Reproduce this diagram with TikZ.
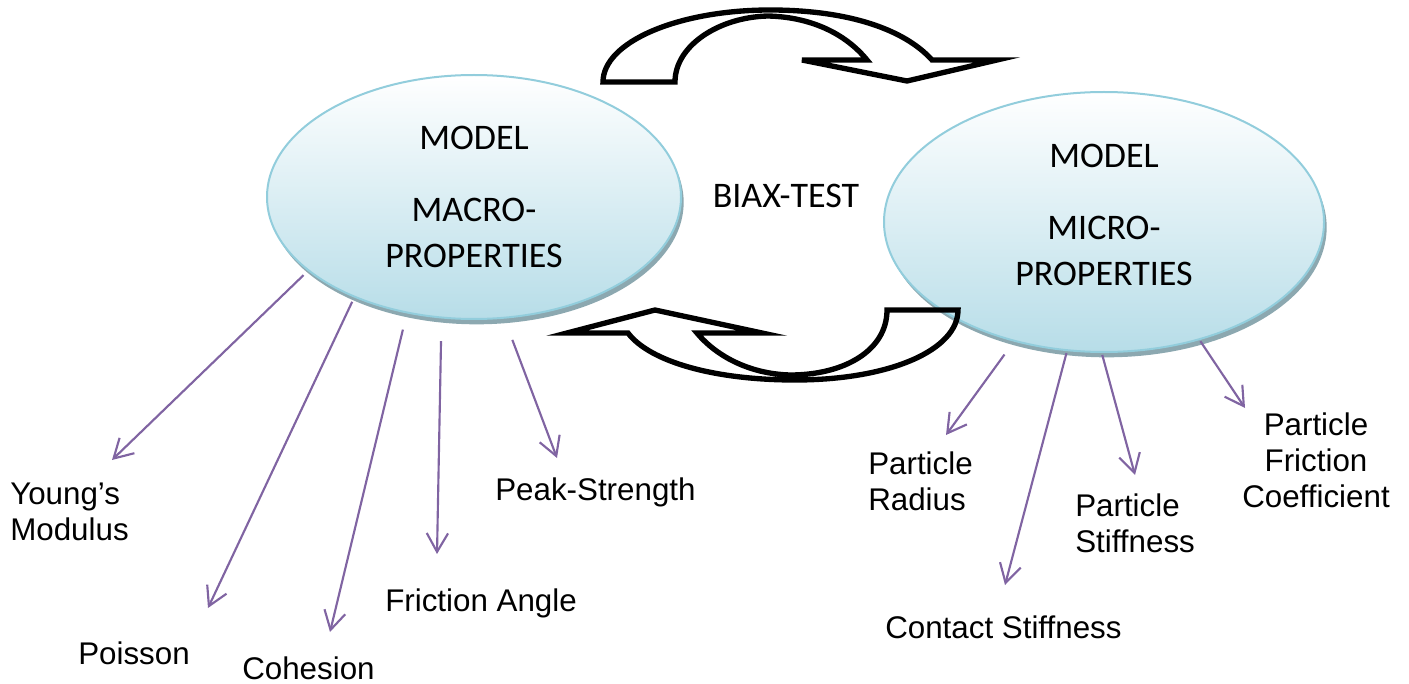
\documentclass[tikz,border=0pt]{standalone}
\usepackage{fontspec}
\setmainfont{Liberation Sans}
\newfontfamily\calibri{Carlito}
\usetikzlibrary{shapes.geometric,shadows,arrows.meta}
\definecolor{ellfill}{RGB}{183,221,232}
\definecolor{ellline}{RGB}{146,205,220}
\definecolor{ellshade}{RGB}{140,168,176}
\definecolor{arrpurple}{RGB}{128,100,162}
\tikzset{model/.style={ellipse, draw=ellline, line width=1.5pt, top color=white, bottom color=ellfill, inner sep=0pt, align=center, font=\calibri\fontsize{27}{34.5}\selectfont, general shadow={fill=ellshade, shadow xshift=2pt, shadow yshift=-4pt}}}
\tikzset{prop/.style={draw=arrpurple, line width=1.6pt, -{Straight Barb[length=14pt,width=16pt]}}, turn/.style={draw=black, line width=4pt, line join=miter}, lbl/.style={inner sep=0pt, font=\fontsize{23.5}{27}\selectfont}}

\begin{document}
\begin{tikzpicture}[x=0.75pt,y=-0.75pt]
  \useasboundingbox (0,0) rectangle (1409,684);

  \node[model, minimum width=310.5pt, minimum height=183pt] (ma) at (474,197) {MODEL\\[19.5pt]MACRO-\\PROPERTIES};
  \node[model, minimum width=330pt, minimum height=195pt, text depth=10.5pt] (mi) at (1104,222) {MODEL\\[19.5pt]MICRO-\\PROPERTIES};
  \node[inner sep=0pt, anchor=base, font=\calibri\fontsize{27}{34.5}\selectfont] (bt) at (786,208) {BIAX-TEST};

  % the two turning block arrows
  \draw[turn]
   (603,82) .. controls (603,42) and (678,10) ..
   (770,10) .. controls (850,10) and (905,30) ..
   (932,60) -- (997,60) -- (907,81) -- (802,60) -- (867,60) .. controls (845,33) and (810,17) ..
   (768,16) .. controls (720,17) and (675,45) ..
   (675,82) -- cycle;
  \draw[turn]
   (887,310) -- (958,310) .. controls (958,350) and (890,380) ..
   (795,380) .. controls (715,380) and (650,362) ..
   (628,333) -- (567,333) -- (655,310) -- (762,333) -- (697,333) .. controls (718,358) and (752,374) ..
   (790,375) .. controls (845,375) and (887,350) ..
   (887,310) -- cycle;

  % labels, placed by the baseline of their last line
  \node[lbl, anchor=base west, align=left] (ym) at (10,540) {Young's\\Modulus};
  \node[lbl, anchor=base west] (ps) at (78,664) {Poisson};
  \node[lbl, anchor=base west] (ch) at (242,679) {Cohesion};
  \node[lbl, anchor=base west] (fa) at (385,611) {Friction Angle};
  \node[lbl, anchor=base west] (pk) at (495,500) {Peak-Strength};
  \node[lbl, anchor=base west, align=left] (pr) at (868,510) {Particle\\Radius};
  \node[lbl, anchor=base west] (cs) at (885,638) {Contact Stiffness};
  \node[lbl, anchor=base west, align=left] (pt) at (1075,552) {Particle\\Stiffness};
  \node[lbl, anchor=base, align=center] (pf) at (1316,507) {Particle\\Friction\\Coefficient};

  \coordinate (ymt) at (112,460);
  \coordinate (pst) at (208,608);
  \coordinate (cht) at (330,632);
  \coordinate (fat) at (437,554);
  \coordinate (pkt) at (557,458);
  \coordinate (prt) at (946,435);
  \coordinate (cst) at (1005,585);
  \coordinate (ptt) at (1135,475);
  \coordinate (pft) at (1245,408);

  \draw[prop, shorten <=4.5pt] (ma.204) -- (ymt);
  \draw[prop, shorten <=3.5pt] (ma.220) -- (pst);
  \draw[prop, shorten <=12.5pt] (ma.240) -- (cht);
  \draw[prop, shorten <=17pt] (ma.255) -- (fat);
  \draw[prop, shorten <=17pt] (ma.284) -- (pkt);
  \draw[prop, shorten <=12pt] (mi.233) -- (prt);
  \draw[prop, shorten <=1.5pt] (mi.254) -- (cst);
  \draw[prop, shorten <=1.5pt] (mi.269) -- (ptt);
  \draw[prop, shorten <=1pt] (mi.309) -- (pft);
\end{tikzpicture}
\end{document}
